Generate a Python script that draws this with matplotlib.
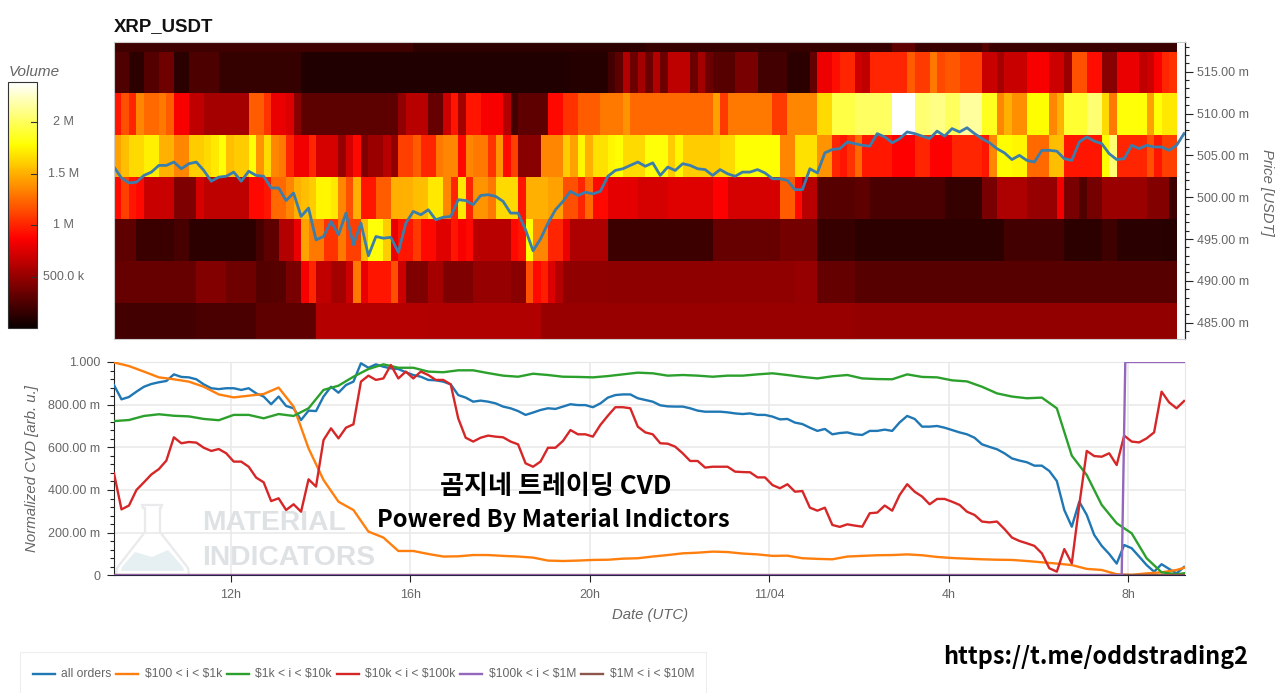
import numpy as np
import matplotlib
matplotlib.use('Agg')
import matplotlib.pyplot as plt
from matplotlib.lines import Line2D
from matplotlib.patches import Polygon
from matplotlib.ticker import MultipleLocator, FixedLocator, NullFormatter
from matplotlib.transforms import Affine2D

plt.rcParams['font.family'] = ['Liberation Sans', 'DejaVu Sans']

# hours since 00:00 UTC of the first day
T0 = 9.405
T_END = 33.26
COL_H = 1 / 6

x_tick_hours = [12, 16, 20, 24, 28, 32]
x_tick_labels = ['12h', '16h', '20h', '11/04', '4h', '8h']

colorbar_ticks = [500, 1000, 1500, 2000]
colorbar_labels = ['500.0 k', '1 M', '1.5 M', '2 M']

# heatmap: price band lower edges (top band first) and (columns, volume in k) runs
band_edges = [482.4, 487.4, 492.4, 497.4, 502.4, 507.4, 512.4, 517.4, 522.4]

band_517 = [(40, 190), (31, 130), (33, 160), (3, 300), (9, 170), (1, 270), (25, 170)]

band_512 = [(2, 250), (2, 130), (2, 270), (2, 360), (2, 120), (4, 240), (11, 150), (36, 75), (5, 100),
            (1, 200), (1, 300), (1, 600), (1, 350), (1, 550), (1, 350), (1, 600), (1, 350), (3, 640),
            (1, 350), (1, 550), (1, 350), (3, 280), (3, 400), (4, 200), (3, 120), (1, 320), (2, 820),
            (1, 920), (2, 1000), (1, 700), (1, 650), (5, 1000), (1, 1200), (2, 1080), (1, 1300), (1, 1130),
            (2, 1180), (3, 1100), (2, 680), (1, 560), (3, 680), (3, 850), (2, 700), (1, 520), (2, 1150),
            (2, 920), (2, 450), (3, 800), (1, 650), (1, 700), (1, 850), (1, 1000), (1, 1050)]

band_507 = [(1, 950), (1, 1150), (1, 1000), (1, 1350), (2, 1250), (1, 1300), (1, 1200), (2, 850), (2, 650),
            (6, 560), (2, 1200), (1, 1050), (2, 800), (1, 750), (1, 450), (13, 290), (1, 480), (3, 620),
            (2, 330), (1, 700), (1, 950), (1, 550), (2, 950), (3, 850), (1, 600), (1, 200), (4, 300),
            (2, 900), (2, 1050), (3, 1200), (3, 1300), (1, 1400), (11, 1250), (1, 1450), (1, 1080), (6, 1300),
            (2, 1080), (4, 1350), (2, 1650), (3, 1950), (5, 2010), (3, 2390), (2, 2050), (2, 2100), (2, 2000),
            (3, 2150), (2, 1850), (1, 1350), (1, 1500), (2, 1380), (3, 1780), (1, 1350), (1, 1500), (3, 1900),
            (2, 2050), (1, 1650), (1, 1300), (4, 1800), (1, 1450), (1, 1800), (2, 1700)]

band_502 = [(1, 1450), (1, 1550), (2, 1650), (2, 1720), (2, 1500), (2, 1350), (2, 1600), (1, 1650), (1, 1700),
            (1, 1800), (1, 1550), (2, 1600), (1, 1800), (1, 1400), (1, 1650), (1, 1350), (1, 1300), (1, 1000),
            (2, 830), (1, 1000), (3, 720), (1, 500), (1, 720), (1, 900), (1, 420), (2, 520), (1, 620), (1, 480),
            (2, 1100), (1, 1200), (1, 1000), (1, 1000), (1, 1300), (2, 1350), (1, 900), (1, 1350), (2, 1300),
            (1, 1050), (1, 1400), (1, 900), (1, 1100), (3, 450), (3, 1350), (1, 1600), (1, 1450), (1, 1750),
            (1, 1500), (2, 1680), (1, 1750), (1, 1780), (3, 1650), (3, 1800), (1, 1600), (1, 1750), (5, 1600),
            (2, 1650), (6, 1790), (2, 1350), (3, 1680), (2, 1400), (1, 1000), (1, 950), (1, 1050), (1, 1250),
            (4, 960), (3, 870), (2, 1000), (3, 870), (4, 1000), (1, 950), (1, 1350), (2, 1780), (2, 1750),
            (3, 1250), (2, 1550), (5, 950), (1, 1780), (1, 2050), (4, 1000), (1, 1150), (1, 950), (2, 1100)]

band_497 = [(1, 900), (1, 1100), (1, 950), (1, 900), (4, 680), (3, 420), (1, 720), (6, 640), (2, 900), (1, 950),
            (2, 1250), (1, 1350), (1, 1500), (1, 1550), (1, 1600), (2, 1750), (1, 1700), (1, 1350), (1, 1150),
            (1, 1500), (2, 950), (2, 1200), (3, 1500), (2, 1550), (2, 1700), (1, 1350), (1, 1000), (1, 1700),
            (1, 1000), (2, 1400), (1, 1300), (3, 1650), (1, 950), (3, 1500), (2, 1450), (2, 1150), (1, 1000),
            (1, 1250), (2, 900), (4, 780), (4, 720), (6, 760), (2, 870), (7, 720), (2, 1200), (1, 900), (2, 620),
            (5, 280), (2, 300), (10, 230), (5, 150), (2, 400), (4, 580), (4, 500), (1, 830), (2, 400), (1, 260),
            (2, 380), (6, 520), (3, 430), (1, 180)]

band_492 = [(3, 300), (5, 170), (2, 220), (9, 130), (1, 220), (2, 300), (2, 600), (1, 800), (1, 1450), (2, 1300),
            (2, 1050), (1, 1300), (2, 1100), (1, 1550), (2, 1800), (1, 1600), (1, 800), (2, 950), (1, 1080),
            (1, 900), (1, 900), (2, 760), (1, 950), (1, 850), (1, 900), (5, 620), (1, 900), (1, 950), (1, 1780),
            (2, 1350), (2, 1000), (1, 800), (5, 580), (14, 180), (9, 330), (5, 380), (5, 160), (20, 130), (8, 200),
            (5, 130), (2, 190), (6, 120), (2, 110)]

band_487 = [(11, 330), (4, 430), (4, 360), (2, 270), (2, 280), (2, 400), (1, 850), (1, 1000), (2, 650), (2, 550),
            (1, 700), (1, 1300), (1, 800), (2, 950), (1, 950), (1, 1150), (1, 700), (3, 420), (2, 560), (4, 420),
            (5, 500), (2, 450), (1, 1150), (1, 900), (1, 980), (1, 750), (1, 600), (6, 480), (15, 470), (10, 480),
            (3, 500), (5, 320), (43, 280)]

band_482 = [(11, 200), (8, 230), (8, 300), (14, 610), (16, 590), (42, 510), (43, 490)]

# price, one reading every 10 min
price = [503.6, 502.3, 501.7, 501.8, 502.6, 503.0, 503.8, 503.8, 504.2, 503.4, 504.0, 504.2, 503.2, 501.9, 502.4,
         502.5, 503.0, 501.9, 503.1, 502.6, 502.5, 501.1, 501.1, 499.6, 500.5, 497.7, 498.7, 494.9, 495.3, 497.1,
         495.5, 498.1, 494.3, 496.9, 493.0, 495.3, 495.1, 495.2, 493.4, 496.9, 498.3, 497.9, 498.5,
         497.3, 497.6, 497.7, 499.7, 499.6, 499.1, 500.2, 500.3, 500.1, 499.5, 498.1, 498.1, 496.1, 493.6, 495.0,
         496.9, 498.5, 499.5, 500.7, 500.2, 500.6, 500.4, 500.7, 502.5, 503.2, 503.4, 503.8, 504.2, 503.7, 504.1,
         502.6, 503.6, 503.2, 504.0, 503.8, 503.4, 503.3, 502.6, 503.3, 502.8, 502.5, 503.0, 503.0, 503.3, 502.9,
         502.2, 502.2, 502.0, 500.9, 500.9, 503.4, 502.9, 505.3, 505.7, 505.8, 506.6, 506.4,
         506.2, 506.1, 507.6, 507.2, 506.5, 507.0, 507.8, 507.6, 507.3, 507.0, 507.9, 507.3, 508.2, 507.8, 508.3,
         507.6, 507.0, 506.5, 505.8, 505.3, 504.5, 505.0, 504.4, 504.2, 505.6, 505.6, 505.5, 504.6, 504.4, 506.6,
         507.2, 506.7, 506.4, 505.2, 504.5, 504.6, 506.2, 505.8, 506.2, 506.0, 506.0, 505.6, 506.2, 507.6]

# normalized CVD in milli units, every 10 min
cvd_all = [892, 825, 836, 861, 884, 897, 905, 911, 942, 930, 928, 919, 895, 877, 873, 877, 877, 869, 877, 853, 838,
           802, 838, 794, 783, 728, 772, 770, 838, 884, 856, 892, 908, 994, 973, 989, 978, 970, 967, 952, 939, 931, 916,
           914, 908, 895, 845, 833, 814, 819, 814, 806, 791, 783, 770, 752, 763, 775, 783, 780, 791, 802, 798, 798,
           788, 806, 833, 845, 848, 848, 830, 822, 814, 797, 792, 791, 791, 783, 772, 767, 767, 767, 764, 759, 756,
           759, 752, 752, 744, 731, 733, 716, 709, 692, 677, 686, 661, 667, 670, 661,
           658, 677, 677, 683, 677, 717, 747, 733, 697, 697, 700, 692, 681, 670, 661, 645, 614, 602, 591, 572, 548,
           538, 530, 514, 514, 489, 442, 306, 228, 345, 283, 189, 138, 100, 55, 142, 127, 88, 48, 17, 52, 30, 9, 39]

cvd_10k_100k = [478, 309, 327, 400, 436, 473, 498, 538, 647, 619, 625, 622, 598, 583, 592, 572, 533, 533, 509, 458,
                436, 348, 361, 306, 333, 298, 450, 416, 634, 689, 642, 692, 708, 908, 936, 916, 923, 986, 923, 955,
                923, 955, 939,
                916, 916, 895, 736, 645, 627, 645, 655, 650, 647, 627, 614, 525, 509, 533, 598, 598, 630, 681, 661,
                661, 650, 705, 748, 788, 788, 783, 697, 670, 661, 619, 617, 603, 572, 536, 536, 505, 509, 509, 509,
                486, 484, 483, 459, 459, 423, 408, 427, 392, 395, 317, 303, 317, 236, 227, 239, 233,
                228, 291, 294, 327, 303, 377, 427, 392, 369, 333, 358, 358, 345, 330, 298, 283, 252, 248, 252, 217,
                177, 161, 150, 138, 103, 33, 17, 123, 56, 330, 583, 559, 556, 572, 517, 655, 627, 623, 642, 670, 861,
                811, 783, 817]

# these two are smoother, one reading every 20 min
cvd_1k_10k = [723, 728, 747, 755, 748, 745, 733, 727, 752, 752, 736, 756, 747, 783, 869, 889, 931, 967, 989, 973,
              973, 955,
              952, 961, 961, 948, 936, 931, 945, 939, 931, 930, 928, 934, 942, 950, 947, 936, 939, 936, 931, 936,
              936, 942, 947, 939, 930, 923, 933, 939,
              923, 920, 919, 942, 930, 928, 914, 909, 884, 853, 838, 830, 833, 783, 561, 470, 330, 244, 197, 80, 14,
              5, 14]

cvd_100_1k = [998, 981, 955, 928, 919, 908, 884, 848, 834, 842, 850, 880, 791, 595, 447, 345, 306, 205, 177, 114,
              114, 100,
              88, 89, 95, 95, 91, 88, 83, 69, 67, 69, 72, 73, 78, 80, 88, 95, 103, 106, 111, 109, 102, 98, 91, 92, 80,
              77, 75, 88,
              91, 94, 95, 98, 94, 86, 81, 78, 75, 73, 72, 67, 61, 55, 48, 30, 25, 5, 2, 9, 14, 25, 45]

cvd_100k_1m_t = [T0, 31.85, 31.93, T_END]
cvd_100k_1m = [0, 0, 1000, 1000]
cvd_1m_10m = [0, 0]

legend_labels = ['all orders', '$100 < i < $1k', '$1k < i < $10k', '$10k < i < $100k', '$100k < i < $1M',
                 '$1M < i < $10M']
legend_colors = ['#1f77b4', '#ff7f0e', '#2ca02c', '#d62728', '#9467bd', '#8c564b']

W, H = 1280, 693
GREY = '#666666'


def axes_px(x0, y0, x1, y1):
    return fig.add_axes([x0 / W, 1 - y1 / H, (x1 - x0) / W, (y1 - y0) / H])


def expand(runs):
    return np.repeat([r[1] for r in runs], [r[0] for r in runs])


def times(values, step):
    return T0 + np.arange(len(values)) * step


def milli(value, pos=None):
    if value == 0:
        return '0'
    if value == 1000:
        return '1.000'
    return f'{value:.2f} m'


fig = plt.figure(figsize=(W / 100, H / 100), dpi=100, facecolor='white')
# pixel positions for the text and shapes pasted on top of the chart
px = Affine2D().scale(1, -1).translate(0, H)

# top panel
ax1 = axes_px(114, 42, 1185, 339)
bands = [band_482, band_487, band_492, band_497, band_502, band_507, band_512, band_517]
grid = np.array([expand(b) for b in bands])
col_edges = T0 + np.arange(grid.shape[1] + 1) * COL_H
mesh = ax1.pcolormesh(col_edges, band_edges, grid, cmap='hot', vmin=0, vmax=2390, linewidth=0)
ax1.plot(times(price, COL_H), price, color='#3b7dab', lw=2.0, solid_joinstyle='round')
ax1.set_xlim(T0, T_END)
ax1.set_ylim(483.05, 518.55)
ax1.set_xticks([])
ax1.yaxis.tick_right()
ax1.yaxis.set_major_locator(MultipleLocator(5))
ax1.yaxis.set_minor_locator(MultipleLocator(1))
ax1.yaxis.set_major_formatter(lambda v, pos: f'{v:.2f} m')
ax1.tick_params(axis='y', which='major', length=6, width=0.8, colors='#222222', labelcolor=GREY, labelsize=9, pad=2.5)
ax1.tick_params(axis='y', which='minor', length=3, width=0.8, colors='#222222')
for side in ['top', 'left', 'bottom']:
    ax1.spines[side].set_color('#cccccc')
    ax1.spines[side].set_linewidth(0.8)
ax1.spines['right'].set_color('#222222')
ax1.spines['right'].set_linewidth(0.9)
ax1.text(114, 31.5, 'XRP_USDT', transform=px, fontsize=13.4, fontweight='bold', color='#111111')

# colour bar, ticks sit just inside the right edge and labels are centred beside it
cax = axes_px(8, 82, 37, 328)
cbar = fig.colorbar(mesh, cax=cax)
cbar.set_ticks([])
cbar.outline.set_edgecolor('#333333')
cbar.outline.set_linewidth(0.8)
fig.text(9, 76, 'Volume', transform=px, fontsize=11, fontstyle='italic', color=GREY)
for v, label in zip(colorbar_ticks, colorbar_labels):
    cax.plot([0.8, 1.0], [v, v], color='#333333', lw=0.8, transform=cax.get_yaxis_transform())
    cax.text(1.9, v, label, transform=cax.get_yaxis_transform(), ha='center', va='center', fontsize=9, color=GREY)

# bottom panel
ax2 = axes_px(114, 362, 1185, 575.3)
ax2.set_xlim(T0, T_END)
ax2.set_ylim(0, 1000)
ax2.grid(True, color='#e8e8e8', lw=1.1)
ax2.set_axisbelow(True)
ax2.plot(times(cvd_all, COL_H), cvd_all, color=legend_colors[0], lw=1.7, zorder=3)
ax2.plot(times(cvd_100_1k, 2 * COL_H), cvd_100_1k, color=legend_colors[1], lw=1.7, zorder=3)
ax2.plot(times(cvd_1k_10k, 2 * COL_H), cvd_1k_10k, color=legend_colors[2], lw=1.7, zorder=3)
ax2.plot(times(cvd_10k_100k, COL_H), cvd_10k_100k, color=legend_colors[3], lw=1.7, zorder=3)
ax2.plot([T0, T_END], cvd_1m_10m, color=legend_colors[5], lw=1.7, zorder=3)
ax2.plot(cvd_100k_1m_t, cvd_100k_1m, color=legend_colors[4], lw=1.7, zorder=3)

ax2.xaxis.set_major_locator(FixedLocator(x_tick_hours))
ax2.set_xticklabels(x_tick_labels)
ax2.yaxis.set_major_locator(MultipleLocator(200))
ax2.yaxis.set_minor_locator(MultipleLocator(40))
ax2.yaxis.set_major_formatter(milli)
ax2.yaxis.set_minor_formatter(NullFormatter())
ax2.tick_params(axis='y', which='major', length=5, width=0.8, colors='#222222', labelcolor=GREY, labelsize=9, pad=5)
ax2.tick_params(axis='y', which='minor', length=3, width=0.8, colors='#222222')
ax2.tick_params(axis='x', which='major', length=5, width=0.8, colors='#222222', labelcolor=GREY, labelsize=9, pad=5)
for side in ['top', 'right']:
    ax2.spines[side].set_color('#e8e8e8')
ax2.spines['left'].set_color('#222222')
ax2.spines['bottom'].set_color('#2b2440')
ax2.spines['bottom'].set_zorder(4)

fig.text(1267, 192, 'Price [USDT]', transform=px, rotation=270, ha='center', va='center', fontsize=10.7,
         fontstyle='italic', color=GREY)
fig.text(32, 469, 'Normalized CVD [arb. u.]', transform=px, rotation=90, ha='center', va='center', fontsize=10.8,
         fontstyle='italic', color=GREY)
fig.text(650, 615, 'Date (UTC)', transform=px, ha='center', va='center', fontsize=10.7, fontstyle='italic', color=GREY)

# watermark under the lines
wm = '#dfe2e4'
ax2.text(202, 523, 'MATERIAL', transform=px, fontsize=20.3, fontweight='bold', color=wm, va='center', zorder=1)
ax2.text(202, 558, 'INDICATORS', transform=px, fontsize=20.3, fontweight='bold', color=wm, va='center', zorder=1)
flask = [(142, 505), (162, 505), (161, 508), (160, 508), (160, 532), (188, 568), (189, 575), (116, 575), (117, 568),
         (145, 532), (145, 508), (143, 508)]
ax2.add_patch(Polygon(flask, closed=True, transform=px, fill=False, ec='#e8eaec', lw=1.6, zorder=1, clip_on=False))
liquid = [(122, 567), (135, 552), (152, 557), (168, 550), (183, 567), (184, 571), (121, 571)]
ax2.add_patch(Polygon(liquid, closed=True, transform=px, fc='#e6eff2', ec='none', zorder=1, clip_on=False))

# pasted captions
korean = ['Noto Sans CJK KR', 'DejaVu Sans']
fig.text(556, 486, '곰지네 트레이딩 CVD', transform=px, ha='center', va='center', fontsize=18.8, fontweight='bold',
         family=korean, color='black', zorder=5)
fig.text(553, 520, 'Powered By Material Indictors', transform=px, ha='center', va='center', fontsize=17.1,
         fontweight='bold', family=korean, color='black', zorder=5)
fig.text(1096, 657, 'https://t.me/oddstrading2', transform=px, ha='center', va='center', fontsize=16.8,
         fontweight='bold', family=korean, color='black', zorder=5)

# legend box, laid out by hand like the bokeh one
fig.add_artist(plt.Rectangle((20, 652), 686, 41, transform=px, fill=False, ec='#eeeeee', lw=0.8))
line_x = [33, 116, 227, 337, 460, 581]
text_x = [61, 145, 255, 365, 489, 610]
for label, color, lx, tx in zip(legend_labels, legend_colors, line_x, text_x):
    fig.add_artist(Line2D([lx, lx + 22], [674, 674], transform=px, color=color, lw=1.7))
    fig.text(tx, 674, label, transform=px, va='center', fontsize=8.7, color=GREY, parse_math=False)

fig.savefig('out.png', dpi=100)
